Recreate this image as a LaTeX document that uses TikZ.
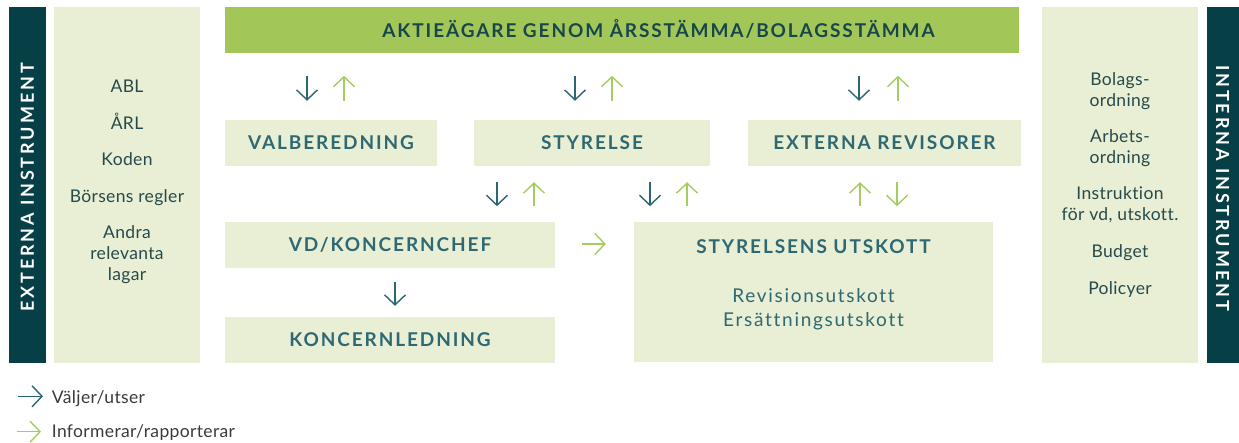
\documentclass[tikz,border=0pt]{standalone}
\usepackage{fontspec}
\setmainfont{Lato}[Ligatures=NoCommon]
\newfontfamily\hdfont{Lato}[LetterSpace=10,Ligatures=NoCommon]
\newfontfamily\vtfont{Lato}[LetterSpace=16,Ligatures=NoCommon]
\newfontfamily\bdfont{Lato}[LetterSpace=2,Ligatures=NoCommon]
\newfontfamily\sbfont{Lato}[LetterSpace=9,Ligatures=NoCommon]
\newfontfamily\lgfont{Lato}[LetterSpace=2,Ligatures=NoCommon]
\usetikzlibrary{arrows.meta,calc}
\definecolor{darkbar}{HTML}{063F45}
\definecolor{panel}{HTML}{E8EFD4}
\definecolor{topgreen}{HTML}{A3C658}
\definecolor{headc}{HTML}{2E6872}
\definecolor{topc}{HTML}{17474C}
\definecolor{bodyc}{HTML}{264A4C}
\definecolor{selc}{HTML}{2B6673}
\definecolor{infc}{HTML}{A5CC5E}
\definecolor{legc}{HTML}{3A3A3A}
\tikzset{
  box/.style={fill=panel, draw=none, inner sep=0pt, minimum height=46pt},
  head/.style={font=\hdfont\bfseries\fontsize{19}{21}\selectfont, text=headc, text height=13.6pt, text depth=0pt},
  body/.style={font=\bdfont\fontsize{17.5}{21}\selectfont, text=bodyc, anchor=base, inner sep=0pt},
  sub/.style={font=\sbfont\fontsize{19}{21}\selectfont, text=headc, anchor=base, inner sep=0pt},
  vbar/.style={fill=darkbar, draw=none, inner sep=0pt, minimum height=356pt},
  vtext/.style={font=\vtfont\bfseries\fontsize{18}{20}\selectfont, text=white, inner sep=0pt},
  sel/.style={draw=selc, line width=1.4pt, -{Straight Barb[length=10pt,width=21pt]}},
  inf/.style={draw=infc, line width=1.4pt, -{Straight Barb[length=10pt,width=21pt]}},
  leg/.style={font=\lgfont\fontsize{17.5}{19}\selectfont, text=legc, anchor=base west, inner sep=0pt}
}
\begin{document}
\begin{tikzpicture}[x=1pt,y=-1pt]
\useasboundingbox (0,0) rectangle (1239,443);
% side bars
\node[vbar, minimum width=37pt] (extbar) at (27.5,185) {};
\node[vtext, rotate=90] (exttext) at (27.3,187.5) {EXTERNA INSTRUMENT};
\node[vbar, minimum width=32pt] (intbar) at (1223,185) {};
\node[vtext, rotate=-90] (inttext) at (1222.5,188) {INTERNA INSTRUMENT};
% panels
\node[fill=panel, inner sep=0pt, minimum width=146pt, minimum height=356pt] (lpanel) at (127,185) {};
\node[fill=panel, inner sep=0pt, minimum width=156pt, minimum height=356pt] (rpanel) at (1120,185) {};
% left panel texts
\node[body] (l1) at (127,92.5) {ABL};
\node[body] (l2) at (127,129.5) {ÅRL};
\node[body] (l3) at (127,166) {Koden};
\node[body] (l4) at (127,202.3) {Börsens regler};
\node[body] (l5) at (127,238.7) {Andra};
\node[body] (l6) at (127,259.7) {relevanta};
\node[body] (l7) at (127,280.3) {lagar};
% right panel texts
\node[body] (r1) at (1120,86) {Bolags-};
\node[body] (r2) at (1120,106.5) {ordning};
\node[body] (r3) at (1120,142.7) {Arbets-};
\node[body] (r4) at (1120,163.3) {ordning};
\node[body] (r5) at (1120,200) {Instruktion};
\node[body] (r6) at (1120,220.7) {för vd, utskott.};
\node[body] (r7) at (1120,257.7) {Budget};
\node[body] (r8) at (1120,294.7) {Policyer};
% top bar
\node[fill=topgreen, inner sep=0pt, minimum width=794pt, minimum height=46pt] (top) at (622,30) {};
\node[font=\hdfont\bfseries\fontsize{19}{21}\selectfont, text=topc, text height=13.6pt, text depth=0pt, inner sep=0pt] (toptext) at (658.5,31) {AKTIEÄGARE GENOM ÅRSSTÄMMA/BOLAGSSTÄMMA};
% boxes
\node[box, head, minimum width=212pt] (val) at (331,143) {VALBEREDNING};
\node[box, head, minimum width=236pt] (sty) at (592,143) {STYRELSE};
\node[box, head, minimum width=273pt] (rev) at (884.5,143) {EXTERNA REVISORER};
\node[box, head, minimum width=330pt] (vd) at (390,245) {VD/KONCERNCHEF};
\node[box, head, minimum width=330pt] (kl) at (390,340) {KONCERNLEDNING};
\node[box, minimum width=359pt, minimum height=140pt] (utsk) at (813.5,292) {};
\node[head, inner sep=0pt] (utskh) at (813.5,247) {STYRELSENS UTSKOTT};
\node[sub] (u1) at (813.5,302.7) {Revisionsutskott};
\node[sub] (u2) at (813.5,326.7) {Ersättningsutskott};
% arrows row 1
\draw[sel] ($(val.north)+(-24,-44)$) -- ++(0,25);
\draw[inf] ($(val.north)+(13,-19)$) -- ++(0,-25);
\draw[sel] ($(sty.north)+(-17,-44)$) -- ++(0,25);
\draw[inf] ($(sty.north)+(20,-19)$) -- ++(0,-25);
\draw[sel] ($(rev.north)+(-25.5,-44)$) -- ++(0,25);
\draw[inf] ($(rev.north)+(13.5,-19)$) -- ++(0,-25);
% arrows row 2
\draw[sel] ($(sty.south)+(-95,16)$) -- ++(0,24);
\draw[inf] ($(sty.south)+(-58,40)$) -- ++(0,-24);
\draw[sel] ($(sty.south)+(58,16)$) -- ++(0,24);
\draw[inf] ($(sty.south)+(95,40)$) -- ++(0,-24);
\draw[inf] ($(rev.south)+(-24.5,40)$) -- ++(0,-24);
\draw[inf] ($(rev.south)+(12.5,16)$) -- ++(0,24);
% vd arrows
\draw[sel] ($(vd.south)+(5,14)$) -- ($(kl.north)+(5,-11)$);
\draw[inf] ($(vd.east)+(27,-1)$) -- ($(utsk.west)+(-28,-48)$);
% legend
\node[leg] (lg1) at (51.7,403.3) {Väljer/utser};
\node[leg] (lg2) at (51.7,437) {Informerar/rapporterar};
\draw[sel] ($(lg1.base west)+(-33.7,-7)$) -- ++(25,0);
\draw[inf] ($(lg2.base west)+(-34.7,-5.3)$) -- ++(24,0);
\end{tikzpicture}
\end{document}
